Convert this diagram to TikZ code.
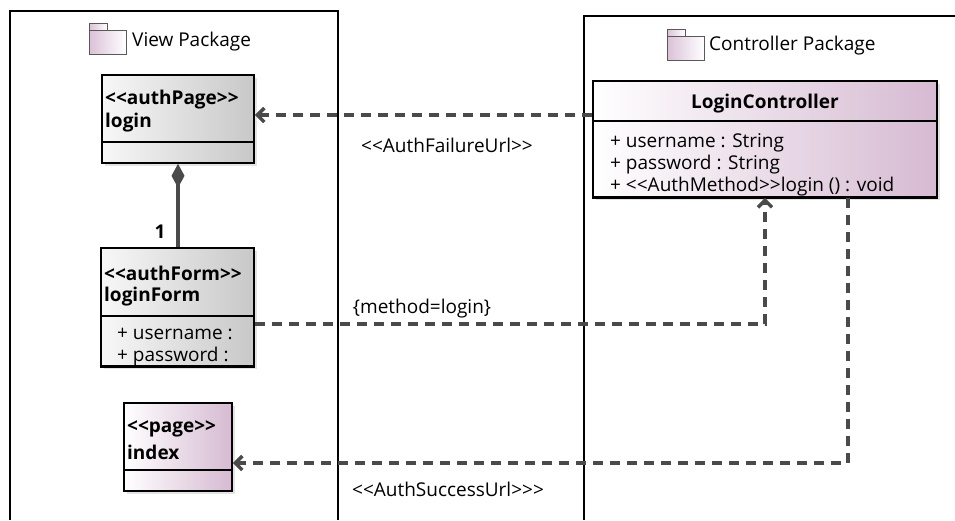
\documentclass[tikz,border=0pt]{standalone}
\usepackage{fontspec}
\setmainfont{Open Sans}[Ligatures=TeXOff]
\usetikzlibrary{arrows.meta,shadows,positioning,calc}
\definecolor{arrowgray}{HTML}{4A4A4A}
\definecolor{boxgray}{HTML}{C8C8C8}
\definecolor{boxpink}{HTML}{D6BAD2}

\begin{document}
\begin{tikzpicture}[x=1pt, y=-1pt,
    font=\fontsize{19}{22}\selectfont,
    grayclass/.style={draw=black, line width=1.6pt, left color=gray!6, right color=boxgray,
        drop shadow={shadow xshift=3pt, shadow yshift=-3pt, fill=black!22}},
    pinkclass/.style={grayclass, left color=white, right color=boxpink},
    boxline/.style={draw=black, line width=1.6pt},
    title/.style={font=\fontsize{19}{22}\selectfont\bfseries, inner sep=0pt, anchor=west},
    attr/.style={inner sep=0pt, anchor=west},
    lbl/.style={inner sep=0pt},
    frame/.style={draw=black, line width=1.6pt},
    dep/.style={draw=arrowgray, line width=3.5pt, dash pattern=on 10pt off 7pt,
        -{Straight Barb[length=7pt,width=14pt]}},
    compo/.style={draw=arrowgray, line width=3.5pt, {Diamond[length=24pt,width=13pt]}-}
]
    \useasboundingbox (0,0) rectangle (955,520);

    % Packages
    \draw[frame] (10,520) -- (10,11) -- (338,11) -- (338,520);
    \draw[frame] (584,520) -- (584,16) -- (955,16);
    \foreach \ix/\iy in {89/23, 667/29} {
        \draw[draw=black!65, line width=0.8pt, left color=boxpink!90, right color=white]
            (\ix,\iy) rectangle (\ix+18,\iy+7);
        \draw[draw=black!65, line width=0.8pt, left color=boxpink!90, right color=white]
            (\ix,\iy+7) rectangle (\ix+37,\iy+31);
    }
    \node[attr] (viewTitle) at (132,42) {View Package};
    \node[attr] (ctrlTitle) at (709,46) {Controller Package};

    % View classes
    \node[grayclass, minimum width=152pt, minimum height=88pt] (login) at (178,119) {};
    \draw[boxline] ($(login.south west)+(0,-22)$) -- ($(login.south east)+(0,-22)$);
    \node[title] (loginStereo) at (105,100) {<<authPage>>};
    \node[title] (loginName) at (105,123) {login};

    \node[grayclass, minimum width=153pt, minimum height=118pt] (form) at (177.5,307) {};
    \draw[boxline] ($(form.south west)+(0,-51)$) -- ($(form.south east)+(0,-51)$);
    \node[title] (formStereo) at (104,273) {<<authForm>>};
    \node[title] (formName) at (104,297) {loginForm};
    \node[attr] (formAttr0) at (117,334) {+ username :};
    \node[attr] (formAttr1) at (117,357) {+ password :};
    \draw[boxline] (form.south west) -- (form.south east);

    \node[pinkclass, minimum width=108pt, minimum height=88pt] (index) at (178,447) {};
    \draw[boxline] ($(index.south west)+(0,-22)$) -- ($(index.south east)+(0,-22)$);
    \node[title] (indexStereo) at (127,429) {<<page>>};
    \node[title] (indexName) at (127,452) {index};

    % Controller class
    \node[pinkclass, minimum width=344pt, minimum height=116pt] (ctrl) at (765,139) {};
    \draw[boxline] ($(ctrl.north west)+(0,41)$) -- ($(ctrl.north east)+(0,41)$);
    \node[title, anchor=center] (ctrlName) at (765,104) {LoginController};
    \foreach \i/\txt in {0/{+ username : String}, 1/{+ password : String}, 2/{+ <<AuthMethod>>login () : void}} {
        \node[attr] (ctrlAttr\i) at (610,143+22*\i) {\txt};
    }
    \draw[boxline] (ctrl.south west) -- (ctrl.south east);

    % Connectors
    \draw[compo] (login.south) -- (form.north -| login.south);
    \node[title, anchor=center] (mult) at (160,232) {1};

    \coordinate (failEnd) at ([yshift=4pt]login.east);
    \draw[dep] (ctrl.west |- failEnd) -- (failEnd);
    \node[lbl] (failLbl) at (447,145) {<<AuthFailureUrl>>};

    \draw[dep] ([yshift=-17pt]form.east) -| (ctrl.south);
    \node[lbl] (methodLbl) at (422,309) {\{method=login\}};

    \draw[dep] ([xshift=83pt]ctrl.south) |- ([yshift=-16pt]index.east);
    \node[lbl] (successLbl) at (448,489) {<<AuthSuccessUrl>>>};
\end{tikzpicture}
\end{document}
